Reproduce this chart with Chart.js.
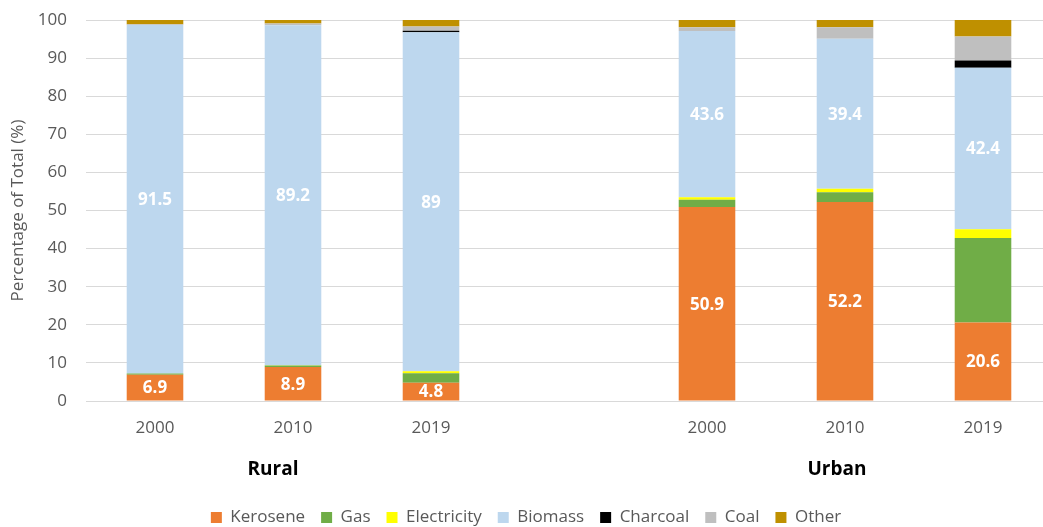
<!DOCTYPE html>
<html>
<head>
<meta charset="utf-8">
<script src="https://cdn.jsdelivr.net/npm/chart.js@4.4.0/dist/chart.umd.min.js"></script>
<style>
  html, body { margin: 0; padding: 0; background: #fff; overflow: hidden; }
</style>
</head>
<body>
<canvas id="fuelChart" width="1052" height="527"></canvas>
<script>
// categorias (slot vazio separa Rural / Urban)
const years = ['2000', '2010', '2019', '', '2000', '2010', '2019'];
const groupNames = ['Rural', 'Urban'];

// percentagens por combustível
const kerosene    = [6.9, 8.9, 4.8, null, 50.9, 52.2, 20.6];
const gas         = [0.3, 0.4, 2.5, null, 1.9, 2.6, 22.2];
const electricity = [0, 0.1, 0.5, null, 0.7, 0.9, 2.3];
const biomass     = [91.5, 89.2, 89, null, 43.6, 39.4, 42.4];
const charcoal    = [0, 0, 0.4, null, 0, 0, 1.9];
const coal        = [0.2, 0.5, 1.1, null, 1.0, 3.0, 6.3];
const other       = [1.1, 0.9, 1.7, null, 1.9, 1.9, 4.3];

Chart.defaults.font.family = '"Open Sans", sans-serif';
Chart.defaults.color = '#595959';

// rótulos brancos dentro das barras
const barLabels = {
    id: 'barLabels',
    afterDatasetsDraw(chart) {
        const ctx = chart.ctx;
        ctx.save();
        ctx.font = 'bold 17px "Open Sans"';
        ctx.fillStyle = '#ffffff';
        ctx.textAlign = 'center';
        ctx.textBaseline = 'middle';
        chart.data.datasets.forEach((ds, i) => {
            if (!ds.showLabels) return;
            chart.getDatasetMeta(i).data.forEach((bar, j) => {
                const v = ds.data[j];
                if (v == null) return;
                const p = bar.getProps(['x', 'y', 'base'], true);
                ctx.fillText(String(v), p.x, (p.y + p.base) / 2 + 1);
            });
        });
        ctx.restore();
    }
};

// nomes dos grupos por baixo dos anos
const groupLabels = {
    id: 'groupLabels',
    afterDraw(chart) {
        const ctx = chart.ctx;
        const x = chart.scales.x;
        ctx.save();
        ctx.font = 'bold 19px "Open Sans"';
        ctx.fillStyle = '#000000';
        ctx.textAlign = 'center';
        ctx.textBaseline = 'middle';
        ctx.fillText(groupNames[0], x.getPixelForValue(1) - 20, 470);
        ctx.fillText(groupNames[1], x.getPixelForValue(5) - 8, 470);
        ctx.restore();
    }
};

function ds(label, data, color, showLabels) {
    return {
        label: label,
        data: data,
        backgroundColor: color,
        borderWidth: 0,
        showLabels: !!showLabels,
        categoryPercentage: 1,
        barPercentage: 0.41
    };
}

new Chart(document.getElementById('fuelChart'), {
    type: 'bar',
    data: {
        labels: years,
        datasets: [
            ds('Kerosene', kerosene, '#ED7D31', true),
            ds('Gas', gas, '#70AD47'),
            ds('Electricity', electricity, '#FFFF00'),
            ds('Biomass', biomass, '#BDD7EE', true),
            ds('Charcoal', charcoal, '#000000'),
            ds('Coal', coal, '#BFBFBF'),
            ds('Other', other, '#BF9000')
        ]
    },
    options: {
        responsive: false,
        animation: false,
        layout: { padding: { top: 20, right: 0, bottom: -9, left: 0 } },
        scales: {
            x: {
                stacked: true,
                grid: { display: false },
                border: { display: false },
                ticks: { font: { size: 17 }, padding: 9, maxRotation: 0 },
                afterFit: scale => { scale.height = 92; }
            },
            y: {
                stacked: true,
                min: 0,
                max: 100,
                ticks: { stepSize: 10, font: { size: 17 }, padding: 19 },
                grid: { color: '#d9d9d9', drawTicks: false },
                border: { display: false },
                title: {
                    display: true,
                    text: 'Percentage of Total (%)',
                    font: { size: 17 },
                    padding: { top: 8, bottom: 0 }
                },
                afterFit: scale => {
                    scale.width = 86;
                    scale.paddingTop = 0;
                    scale.paddingBottom = 0;
                }
            }
        },
        plugins: {
            legend: {
                position: 'bottom',
                labels: {
                    boxWidth: 11,
                    boxHeight: 11,
                    padding: 16,
                    font: { size: 17 },
                    color: '#595959'
                }
            },
            tooltip: { enabled: false }
        }
    },
    plugins: [barLabels, groupLabels]
});
</script>
</body>
</html>
